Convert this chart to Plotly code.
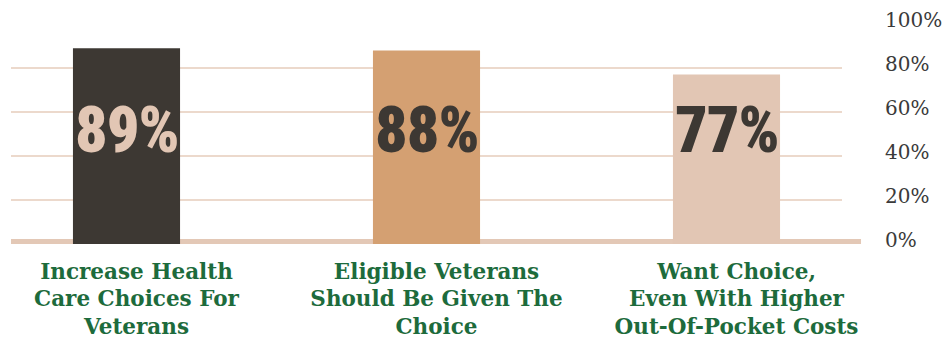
import plotly.graph_objects as go

categories = ["Increase Health<br>Care Choices For<br>Veterans",
              "Eligible Veterans<br>Should Be Given The<br>Choice",
              "Want Choice,<br>Even With Higher<br>Out-Of-Pocket Costs"]
values = [89, 88, 77]
bar_colors = ["#3d3833", "#d4a072", "#e2c6b4"]
label_colors = ["#e2c6b4", "#3d3833", "#3d3833"]
y_ticks = [0, 20, 40, 60, 80, 100]
y_ticktext = ["0%", "20%", "40%", "60%", "80%", "100%"]

xpos = list(range(len(categories)))

fig = go.Figure()
fig.add_trace(go.Bar(x=xpos, y=values, marker=dict(color=bar_colors, line=dict(width=0)),
                     width=0.357, hoverinfo="skip"))

for i, v in enumerate(values):
    fig.add_annotation(x=xpos[i], y=51.8,
                       text=f'<span style="font-stretch:75%;letter-spacing:-1px">{v}%</span>',
                       showarrow=False,
                       font=dict(family="Roboto", size=64,
                                 color=label_colors[i], weight=900),
                       xanchor="center", yanchor="middle")

fig.add_shape(type="rect", xref="paper", yref="y", x0=0, x1=1.0229, y0=0, y1=2.3,
              fillcolor="#e3c8b6", line=dict(width=0), layer="below")

fig.update_layout(
    width=946, height=343,
    margin=dict(l=11, r=104, t=24, b=99),
    plot_bgcolor="white", paper_bgcolor="white",
    showlegend=False,
    xaxis=dict(range=[-0.385, 2.385], tickvals=xpos, ticktext=categories, automargin=False,
               showgrid=False, zeroline=False, showline=False, ticks="",
               ticklabelstandoff=12, ticklabelshift=10,
               tickfont=dict(family="DejaVu Serif", size=21.5, color="#1d6b3c", weight="bold")),
    yaxis=dict(range=[0, 100], tickvals=y_ticks, ticktext=y_ticktext, side="right", automargin=False,
               showgrid=True, gridcolor="#ecd9cc", gridwidth=1.5, zeroline=False,
               showline=False, ticks="", ticklabelstandoff=42, ticklabelshift=-4,
               tickfont=dict(family="Georgia, DejaVu Serif", size=20, color="#3a3a3a")),
)

fig.write_html("out.html")
